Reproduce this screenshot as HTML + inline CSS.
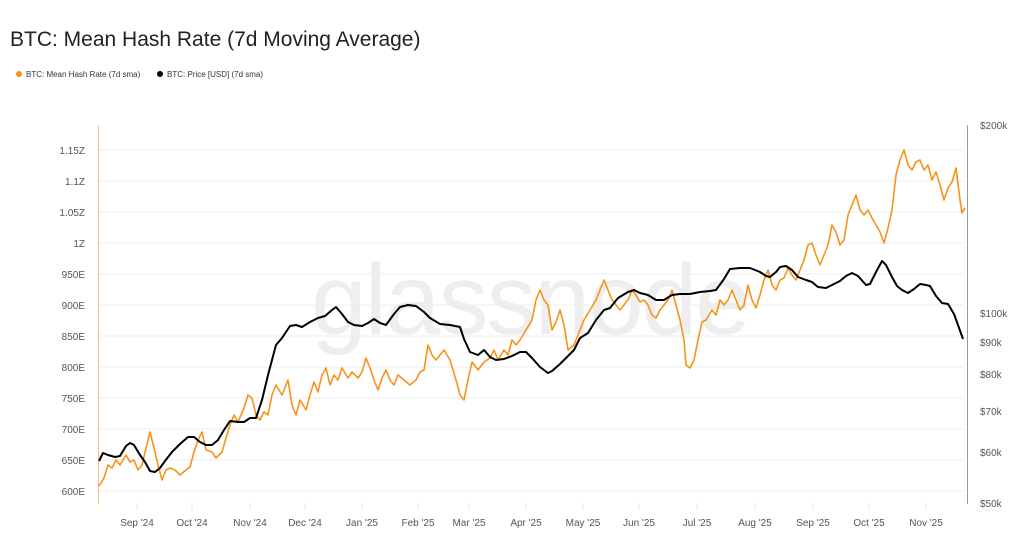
<!DOCTYPE html>
<html><head><meta charset="utf-8"><style>
body{margin:0;background:#fff;width:1024px;height:546px;overflow:hidden;font-family:"Liberation Sans",sans-serif}
</style></head><body>
<svg width="1024" height="546" xmlns="http://www.w3.org/2000/svg" font-family="Liberation Sans, sans-serif">
<text x="10" y="46" font-size="21" fill="#222">BTC: Mean Hash Rate (7d Moving Average)</text>
<circle cx="19" cy="74" r="3" fill="#f7931a"/>
<text x="26" y="77" font-size="8" fill="#333">BTC: Mean Hash Rate (7d sma)</text>
<circle cx="160" cy="74" r="3" fill="#000"/>
<text x="167" y="77" font-size="8" fill="#333">BTC: Price [USD] (7d sma)</text>
<text x="530" y="334" font-size="100" fill="#eeeeee" text-anchor="middle" letter-spacing="-2">glassnode</text>
<g stroke="#eee" stroke-width="1">
<line x1="99" x2="964" y1="150" y2="150"/><line x1="99" x2="964" y1="181" y2="181"/><line x1="99" x2="964" y1="212" y2="212"/><line x1="99" x2="964" y1="243" y2="243"/><line x1="99" x2="964" y1="274" y2="274"/><line x1="99" x2="964" y1="305" y2="305"/><line x1="99" x2="964" y1="336" y2="336"/><line x1="99" x2="964" y1="367" y2="367"/><line x1="99" x2="964" y1="398" y2="398"/><line x1="99" x2="964" y1="429" y2="429"/><line x1="99" x2="964" y1="460" y2="460"/><line x1="99" x2="964" y1="491" y2="491"/>
</g>
<g stroke="#e6e6e6"><line x1="137" x2="137" y1="503" y2="510"/><line x1="192" x2="192" y1="503" y2="510"/><line x1="250" x2="250" y1="503" y2="510"/><line x1="305" x2="305" y1="503" y2="510"/><line x1="362" x2="362" y1="503" y2="510"/><line x1="418" x2="418" y1="503" y2="510"/><line x1="469" x2="469" y1="503" y2="510"/><line x1="526" x2="526" y1="503" y2="510"/><line x1="583" x2="583" y1="503" y2="510"/><line x1="639" x2="639" y1="503" y2="510"/><line x1="697" x2="697" y1="503" y2="510"/><line x1="755" x2="755" y1="503" y2="510"/><line x1="813" x2="813" y1="503" y2="510"/><line x1="869" x2="869" y1="503" y2="510"/><line x1="926" x2="926" y1="503" y2="510"/></g>
<line x1="98.5" x2="98.5" y1="125" y2="504" stroke="#f7c27a"/>
<line x1="967.5" x2="967.5" y1="125" y2="504" stroke="#999"/>
<g font-size="10" fill="#555" text-anchor="end">
<text x="85" y="154">1.15Z</text><text x="85" y="185">1.1Z</text><text x="85" y="216">1.05Z</text><text x="85" y="247">1Z</text><text x="85" y="278">950E</text><text x="85" y="309">900E</text><text x="85" y="340">850E</text><text x="85" y="371">800E</text><text x="85" y="402">750E</text><text x="85" y="433">700E</text><text x="85" y="464">650E</text><text x="85" y="495">600E</text>
</g>
<g font-size="10" fill="#555">
<text x="980" y="129">$200k</text><text x="980" y="317">$100k</text><text x="980" y="346">$90k</text><text x="980" y="378">$80k</text><text x="980" y="415">$70k</text><text x="980" y="456">$60k</text><text x="980" y="507">$50k</text>
</g>
<g font-size="10" fill="#555" text-anchor="middle">
<text x="137" y="526">Sep '24</text><text x="192" y="526">Oct '24</text><text x="250" y="526">Nov '24</text><text x="305" y="526">Dec '24</text><text x="362" y="526">Jan '25</text><text x="418" y="526">Feb '25</text><text x="469" y="526">Mar '25</text><text x="526" y="526">Apr '25</text><text x="583" y="526">May '25</text><text x="639" y="526">Jun '25</text><text x="697" y="526">Jul '25</text><text x="755" y="526">Aug '25</text><text x="813" y="526">Sep '25</text><text x="869" y="526">Oct '25</text><text x="926" y="526">Nov '25</text>
</g>
<polyline fill="none" stroke="#f7931a" stroke-width="1.6" stroke-linejoin="round" points="99,486 104,478 108,465 112,468 116,460 120,465 126,455 130,462 134,460 138,470 142,465 146,448 150,432 154,448 158,465 162,480 166,470 170,468 175,470 180,475 186,470 190,467 194,452 198,440 202,432 206,450 212,452 216,458 222,452 226,438 230,425 234,415 238,422 244,408 248,395 252,398 256,415 260,420 264,412 268,415 272,395 276,385 282,395 288,380 292,405 296,415 300,400 306,410 310,395 314,382 318,392 322,375 326,368 330,385 334,375 338,380 342,368 348,378 352,372 358,378 362,372 366,358 370,368 374,380 378,390 382,378 386,370 390,380 394,385 398,375 404,380 410,385 416,380 420,372 424,370 428,345 432,355 436,360 440,355 444,350 450,360 456,380 460,395 464,400 468,380 472,362 478,370 484,362 490,358 494,350 498,360 504,350 508,355 512,340 516,345 520,340 526,330 532,320 536,300 540,290 544,300 548,305 552,330 556,322 560,310 564,325 568,350 574,345 580,330 584,320 590,310 596,300 600,290 604,280 608,290 612,300 616,305 620,310 624,305 628,300 632,290 636,295 640,302 644,300 648,305 652,315 656,318 660,310 664,305 668,300 672,290 676,305 680,320 684,340 686,365 690,368 694,360 698,340 702,322 706,320 712,310 716,315 720,300 724,305 728,300 732,290 736,300 740,310 744,305 748,285 752,300 756,308 760,295 764,280 768,270 772,285 776,290 780,280 784,278 788,268 792,275 796,280 800,270 804,260 808,245 812,243 816,255 820,265 824,255 828,245 832,225 836,232 840,245 844,240 848,215 852,205 856,195 860,210 864,215 868,210 872,218 876,225 880,232 884,243 888,228 892,210 896,175 900,160 904,150 908,165 912,170 916,162 920,160 924,170 928,165 932,180 936,172 940,185 944,200 948,188 952,182 956,168 960,200 962,213 965,208"/>
<polyline fill="none" stroke="#000" stroke-width="2" stroke-linejoin="round" points="99,461 103,453 108,455 115,457 120,456 126,446 130,443 134,445 140,455 145,462 150,471 155,472 160,468 165,461 172,452 180,444 188,437 194,437 200,442 206,445 212,445 218,440 224,430 230,421 238,422 244,422 250,418 256,418 262,400 268,375 276,345 282,338 290,326 296,325 302,327 310,322 318,318 325,316 332,310 336,307 342,314 348,322 354,325 362,326 368,323 374,319 380,323 386,325 394,314 400,307 408,305 416,306 424,312 430,318 440,324 450,325 460,327 464,339 470,352 478,355 484,350 490,357 496,360 504,359 512,356 520,352 526,352 532,358 540,367 548,373 552,371 560,364 566,358 574,350 580,338 588,333 596,320 604,310 610,308 618,298 628,292 634,290 640,293 648,295 656,300 664,300 672,295 680,294 690,294 700,292 710,291 716,290 724,279 730,269 740,268 750,268 760,272 766,276 770,277 776,272 780,267 786,266 792,270 798,277 806,280 812,282 818,287 826,288 832,285 840,281 846,276 852,273 858,276 866,285 870,284 876,272 882,261 886,265 892,277 897,286 902,290 908,293 914,289 920,284 926,285 930,286 936,296 942,303 948,304 954,314 958,325 963,339"/>
</svg>
</body></html>
